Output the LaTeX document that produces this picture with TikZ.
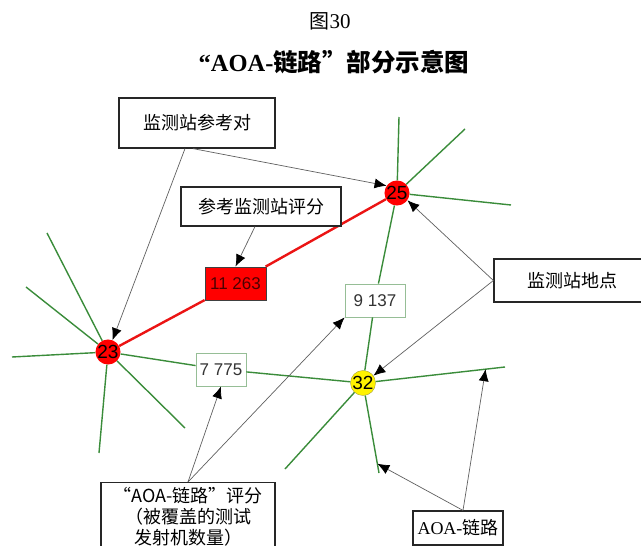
\documentclass[tikz,border=0pt]{standalone}
\usepackage{fontspec}
\setmainfont{Liberation Serif}
\newfontfamily\cjk{Noto Sans CJK SC}
\newfontfamily\arial{Liberation Sans}
\usetikzlibrary{arrows.meta}

\definecolor{linkgreen}{RGB}{58,140,58}
\definecolor{linkred}{RGB}{235,20,20}
\definecolor{callgray}{RGB}{95,95,95}
\definecolor{scoreframe}{RGB}{150,190,150}

\tikzstyle{every picture}+=[>={Latex[length=12pt,width=10pt,black]}]
\tikzstyle{callout}=[draw=black!85, line width=1.2pt, fill=white, inner sep=0pt, font=\cjk\fontsize{18}{21}\selectfont]
\tikzstyle{site}=[circle, minimum size=25pt, inner sep=0pt, font=\arial\fontsize{19}{19}\selectfont]
\tikzstyle{score}=[draw=scoreframe, line width=0.8pt, fill=white, inner sep=0pt, text=black!80, font=\arial\fontsize{17}{17}\selectfont]
\tikzstyle{link}=[linkgreen, line width=1.4pt]
\tikzstyle{pointer}=[->, callgray, line width=0.7pt]

\begin{document}
\begin{tikzpicture}[x=1pt, y=-1pt]
	\clip (0,0) rectangle (641,546) ;
	% title
	\node (fig) at (330,21) {{\cjk\fontsize{20}{20}\selectfont 图}\fontsize{21}{21}\selectfont 30} ;
	\node (title) at (334,62) {\fontsize{24.5}{24}\selectfont\bfseries “AOA-{\cjk\bfseries 链路”部分示意图}} ;

	% stations
	\node[site, fill=red] (n25) at (397,193) {25} ;
	\node[site, fill=red] (n23) at (108,352) {23} ;
	\node[site, fill=yellow, draw=yellow!60!black, line width=0.4pt] (n32) at (363,383) {32} ;

	% link scores
	\node[score, draw=black!75, fill=red, text=black!70!red, minimum width=61pt, minimum height=33pt] (l11263) at (235.5,283.5) {11 263} ;
	\node[score, minimum width=60pt, minimum height=33pt] (l9137) at (375,300.5) {9 137} ;
	\node[score, minimum width=50pt, minimum height=33pt] (l7775) at (221,369.5) {7 775} ;

	% links
	\draw[linkred, line width=2.4pt] (n23) -- (l11263) -- (n25) ;
	\draw[link] (n23) -- (l7775) -- (n32) ;
	\draw[link] (n25) -- (l9137) -- (n32) ;

	% free ends
	\coordinate (s23a) at (47,233) ;
	\coordinate (s23b) at (26,287) ;
	\coordinate (s23c) at (12,357) ;
	\coordinate (s23d) at (99,453) ;
	\coordinate (s23e) at (185,428) ;
	\coordinate (s25a) at (399,117) ;
	\coordinate (s25b) at (465,129) ;
	\coordinate (s25c) at (511,205) ;
	\coordinate (s32a) at (285,469) ;
	\coordinate (s32b) at (379,473) ;
	\coordinate (s32c) at (505,367) ;
	\foreach \n/\e in {23/a,23/b,23/c,23/d,23/e,25/a,25/b,25/c,32/a,32/b,32/c}
		\draw[link] (n\n) -- (s\n\e) ;
	\path (n32) -- (s32b) coordinate[pos=0.88] (t32b) ;
	\path (n32) -- (s32c) coordinate[pos=0.85] (t32c) ;

	% callouts
	\node[callout, minimum width=156pt, minimum height=50pt] (cPair) at (197,123) {监测站参考对} ;
	\node[callout, minimum width=160pt, minimum height=39pt] (cRefScore) at (261,206.5) {参考监测站评分} ;
	\node[callout, minimum width=156pt, minimum height=43pt] (cSite) at (572,280.5) {监测站地点} ;
	\node[callout, anchor=north, minimum width=174pt, inner ysep=5pt, align=center] (cScore) at (188,482) {“AOA-链路”评分\\（被覆盖的测试\\发射机数量）} ;
	\node[callout, minimum width=90pt, minimum height=34pt] (cLink) at (458,528) {{\rmfamily AOA-}链路} ;

	% pointers
	\draw[pointer] ([xshift=-12pt]cPair.south) -- (n23) ;
	\draw[pointer] ([xshift=-4pt]cPair.south) -- (n25.145) ;
	\draw[pointer] ([xshift=-6pt]cRefScore.south) -- (l11263.north) ;
	\draw[pointer] (cSite.west) -- (n25.-35) ;
	\draw[pointer] (cSite.west) -- (n32.35) ;
	\draw[pointer] (cScore.north) -- (l7775.south) ;
	\draw[pointer] (cScore.north) -- (l9137.south west) ;
	\draw[pointer] ([xshift=5pt]cLink.north) -- (t32b) ;
	\draw[pointer] ([xshift=5pt]cLink.north) -- (t32c) ;
\end{tikzpicture}
\end{document}
